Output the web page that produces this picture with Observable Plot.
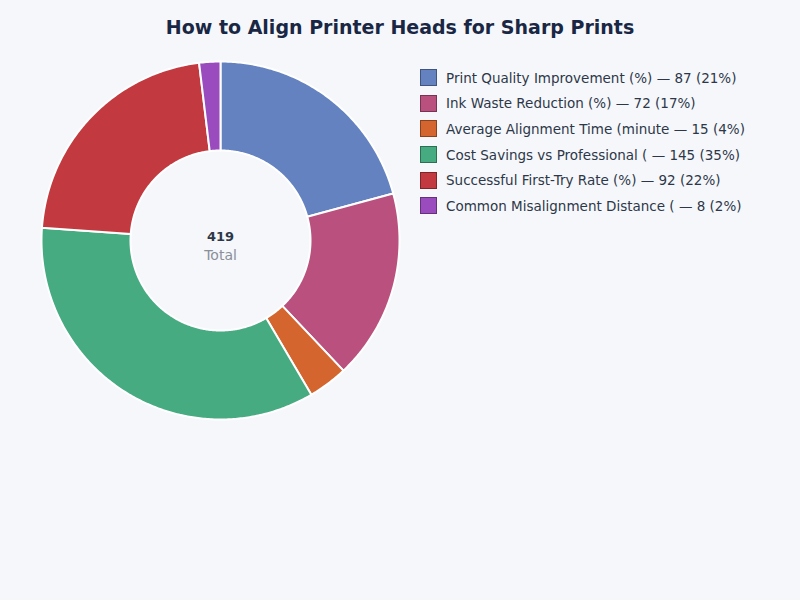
<!DOCTYPE html>
<html>
<head>
<meta charset="utf-8">
<script src="https://cdn.jsdelivr.net/npm/d3@7"></script>
<script src="https://cdn.jsdelivr.net/npm/@observablehq/plot@0.6"></script>
<style>
  html, body { margin: 0; padding: 0; background: #f5f7fb; width: 800px; height: 600px; overflow: hidden; font-family: "DejaVu Sans", sans-serif; }
  #title { height: 50px; line-height: 54px; text-align: center; font-weight: bold; font-size: 19px; color: #1a2744; }
  #wrap { position: relative; width: 800px; height: 550px; }
  #legend { position: absolute; left: 420px; top: 15px; }
  .row { display: flex; align-items: center; height: 25.6px; font-size: 13.5px; color: #2d3748; white-space: nowrap; }
  .sw { width: 15px; height: 15px; margin-right: 9px; border: 1px solid rgba(0,0,0,0.35); }
</style>
</head>
<body>
<div id="title">How to Align Printer Heads for Sharp Prints</div>
<div id="wrap"><div id="chart"></div><div id="legend"></div></div>
<script>
const categories = [
  "Print Quality Improvement (%)",
  "Ink Waste Reduction (%)",
  "Average Alignment Time (minute",
  "Cost Savings vs Professional (",
  "Successful First-Try Rate (%)",
  "Common Misalignment Distance ("
];
const values = [87, 72, 15, 145, 92, 8];
const colors = ["#6482c0", "#b9507e", "#d4652f", "#46ab80", "#c23a3f", "#9a4cbf"];

const total = d3.sum(values);
const innerRatio = 90 / 179;

const pie = d3.pie().sort(null).value(d => d.value)(categories.map((c, i) => ({category: c, value: values[i]})));

// Build polygon outlines for each slice from the pie angles
const pts = [];
pie.forEach(s => {
  const n = Math.max(4, Math.ceil((s.endAngle - s.startAngle) / 0.01));
  const ring = [];
  for (let k = 0; k <= n; k++) {
    const a = s.startAngle + (s.endAngle - s.startAngle) * k / n;
    ring.push({x: Math.sin(a), y: Math.cos(a)});
  }
  for (let k = n; k >= 0; k--) {
    const a = s.startAngle + (s.endAngle - s.startAngle) * k / n;
    ring.push({x: innerRatio * Math.sin(a), y: innerRatio * Math.cos(a)});
  }
  ring.push(ring[0]);
  ring.forEach(p => pts.push({...p, category: s.data.category}));
});

const chart = Plot.plot({
  width: 800,
  height: 550,
  marginLeft: 41,
  marginRight: 401,
  marginTop: 11,
  marginBottom: 181,
  x: {domain: [-1, 1], axis: null},
  y: {domain: [-1, 1], axis: null},
  color: {domain: categories, range: colors},
  style: {background: "transparent", fontFamily: "DejaVu Sans, sans-serif"},
  marks: [
    Plot.line(pts, {x: "x", y: "y", z: "category", fill: "category", stroke: "white", strokeWidth: 2, curve: "linear", strokeLinejoin: "round"}),
    Plot.text([String(total)], {x: () => 0, y: () => 0, text: d => d, dy: -4, fontSize: 13, fontWeight: "bold", fill: "#2d3748"}),
    Plot.text(["Total"], {x: () => 0, y: () => 0, text: d => d, dy: 15, fontSize: 14, fill: "#8a8f99"})
  ]
});
document.getElementById("chart").appendChild(chart);

const legend = d3.select("#legend");
categories.forEach((c, i) => {
  const row = legend.append("div").attr("class", "row");
  row.append("div").attr("class", "sw").style("background", colors[i]);
  row.append("span").text(`${c} — ${values[i]} (${Math.round(values[i] / total * 100)}%)`);
});
</script>
</body>
</html>
